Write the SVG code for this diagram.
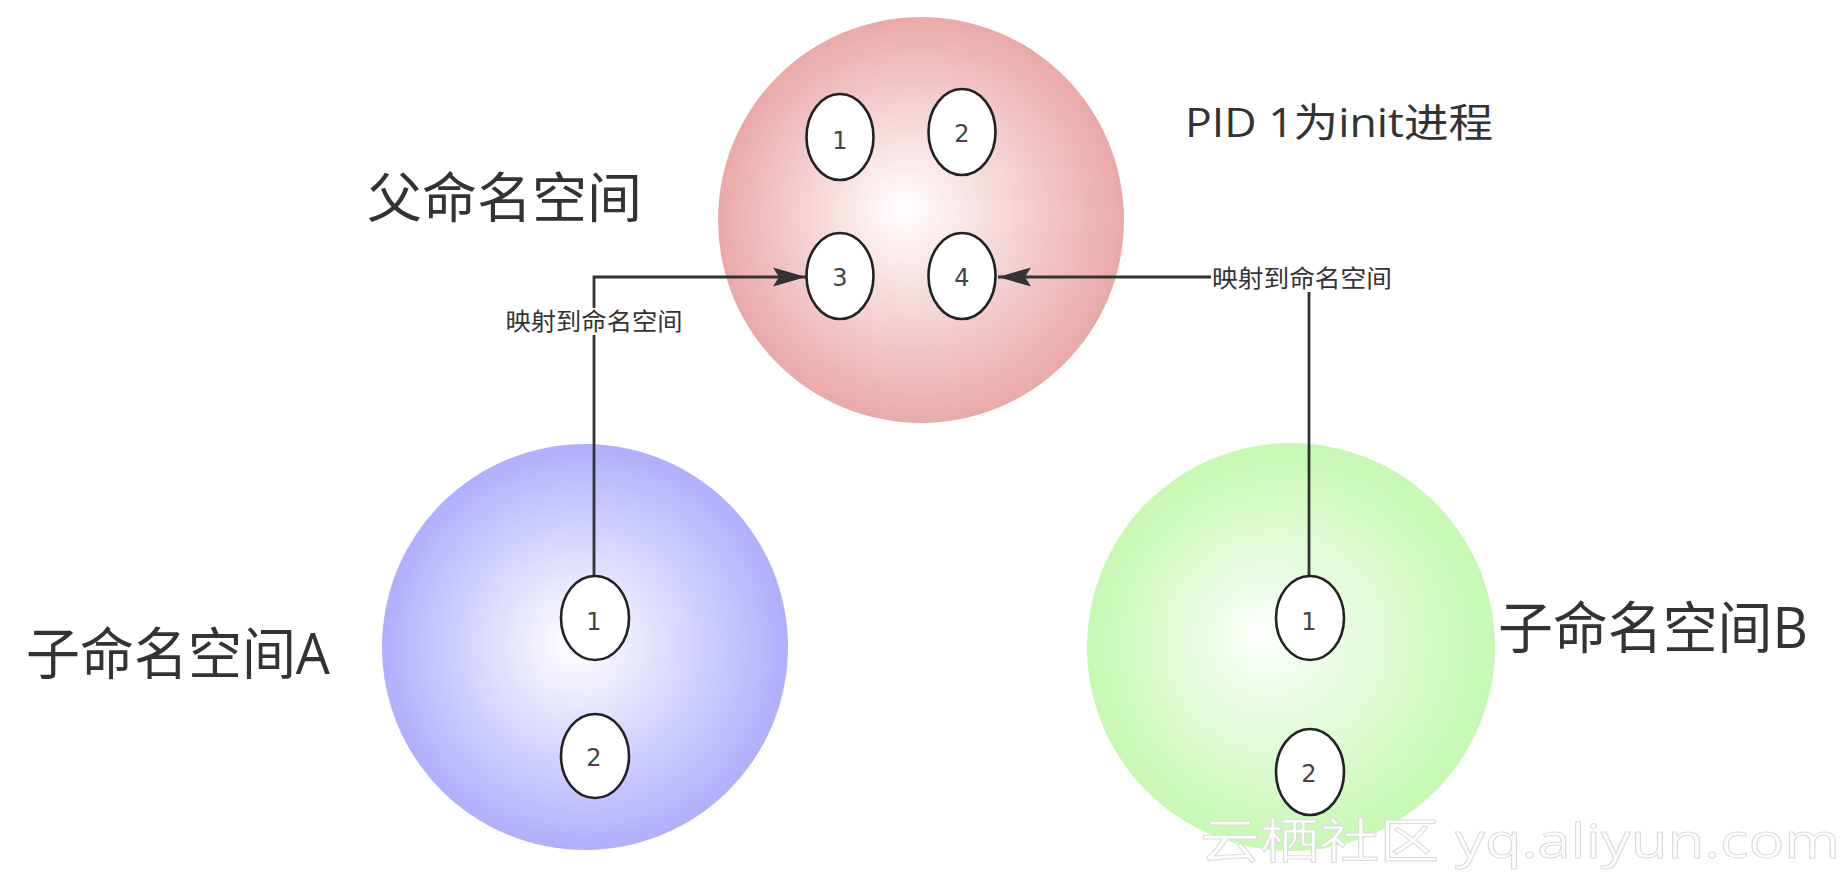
<svg xmlns="http://www.w3.org/2000/svg" width="1848" height="876" viewBox="0 0 1848 876">
  <defs>
    <radialGradient id="gRed" cx="0.5" cy="0.5" r="0.5" fx="0.45" fy="0.47">
      <stop offset="0" stop-color="#ffffff"/>
      <stop offset="0.15" stop-color="#fdf2f2"/>
      <stop offset="1" stop-color="#eaa9a9"/>
    </radialGradient>
    <radialGradient id="gBlue" cx="0.5" cy="0.5" r="0.5" fx="0.47" fy="0.49">
      <stop offset="0" stop-color="#ffffff"/>
      <stop offset="0.15" stop-color="#f4f4ff"/>
      <stop offset="1" stop-color="#afaffd"/>
    </radialGradient>
    <radialGradient id="gGreen" cx="0.5" cy="0.5" r="0.5" fx="0.42" fy="0.47">
      <stop offset="0" stop-color="#ffffff"/>
      <stop offset="0.15" stop-color="#f3fef0"/>
      <stop offset="1" stop-color="#c6f9b2"/>
    </radialGradient>
    <marker id="arrow" markerUnits="userSpaceOnUse" markerWidth="36" markerHeight="22" refX="34" refY="11" orient="auto" viewBox="0 0 36 22">
      <path d="M34,11 L1,1.5 L7,11 L1,20.5 Z" fill="#333333"/>
    </marker>
    <style>
      .pid { fill: #ffffff; stroke: #222222; stroke-width: 2.6; }
      .num { font-family: "DejaVu Sans", sans-serif; font-size: 24px; fill: #444444; text-anchor: middle; }
      .big { font-family: "Open Sans", "Noto Sans CJK SC", sans-serif; fill: #333333; }
      .lbl { font-family: "Noto Sans CJK SC", sans-serif; font-size: 24px; fill: #333333; text-anchor: middle; }
      .edge { fill: none; stroke: #333333; stroke-width: 2.8; }
    </style>
  </defs>
  <rect width="1848" height="876" fill="#ffffff"/>

  <g id="parent-ns">
    <circle cx="921" cy="220" r="203" fill="url(#gRed)"/>
    <text class="big" x="367" y="218" font-size="54" textLength="275" lengthAdjust="spacingAndGlyphs">父命名空间</text>
    <text class="big" x="1185" y="137" font-size="40" textLength="308" lengthAdjust="spacingAndGlyphs">PID 1为init进程</text>
  </g>
  <g id="child-a-ns">
    <circle cx="585" cy="647" r="203" fill="url(#gBlue)"/>
    <text class="big" x="26" y="674" font-size="56" textLength="304" lengthAdjust="spacingAndGlyphs">子命名空间A</text>
  </g>
  <g id="child-b-ns">
    <circle cx="1291" cy="647" r="204" fill="url(#gGreen)"/>
    <text class="big" x="1498" y="648" font-size="56" textLength="310" lengthAdjust="spacingAndGlyphs">子命名空间B</text>
  </g>

  <g id="connectors">
    <path class="edge" d="M594,576 V277 H806" marker-end="url(#arrow)"/>
    <path class="edge" d="M1309,575 V277 H998" marker-end="url(#arrow)"/>
    <rect x="505" y="308" width="179" height="27" fill="#ffffff"/>
    <text class="lbl" x="594" y="330" textLength="177" lengthAdjust="spacingAndGlyphs">映射到命名空间</text>
    <rect x="1211" y="264" width="182" height="28" fill="#ffffff"/>
    <text class="lbl" x="1302" y="287" textLength="180" lengthAdjust="spacingAndGlyphs">映射到命名空间</text>
  </g>

  <g id="p1"><ellipse class="pid" cx="840" cy="137" rx="33.5" ry="43"/><text class="num" x="840" y="149">1</text></g>
  <g id="p2"><ellipse class="pid" cx="962" cy="132" rx="33.5" ry="43"/><text class="num" x="962" y="142">2</text></g>
  <g id="p3"><ellipse class="pid" cx="840" cy="276" rx="33.5" ry="43"/><text class="num" x="840" y="286">3</text></g>
  <g id="p4"><ellipse class="pid" cx="962" cy="276" rx="33.5" ry="43"/><text class="num" x="962" y="286">4</text></g>
  <g id="a1"><ellipse class="pid" cx="595" cy="618" rx="34" ry="42"/><text class="num" x="594" y="630">1</text></g>
  <g id="a2"><ellipse class="pid" cx="595" cy="756" rx="34" ry="42"/><text class="num" x="594" y="766">2</text></g>
  <g id="b1"><ellipse class="pid" cx="1310" cy="618" rx="34" ry="42"/><text class="num" x="1309" y="630">1</text></g>
  <g id="b2"><ellipse class="pid" cx="1310" cy="772" rx="34" ry="43"/><text class="num" x="1309" y="782">2</text></g>

  <g id="watermark">
    <text x="1200" y="858" font-family="Open Sans, Noto Sans CJK SC, sans-serif" font-size="48" fill="#ffffff" stroke="#dcdcdc" stroke-width="1" textLength="640" lengthAdjust="spacingAndGlyphs">云栖社区 yq.aliyun.com</text>
  </g>
</svg>
